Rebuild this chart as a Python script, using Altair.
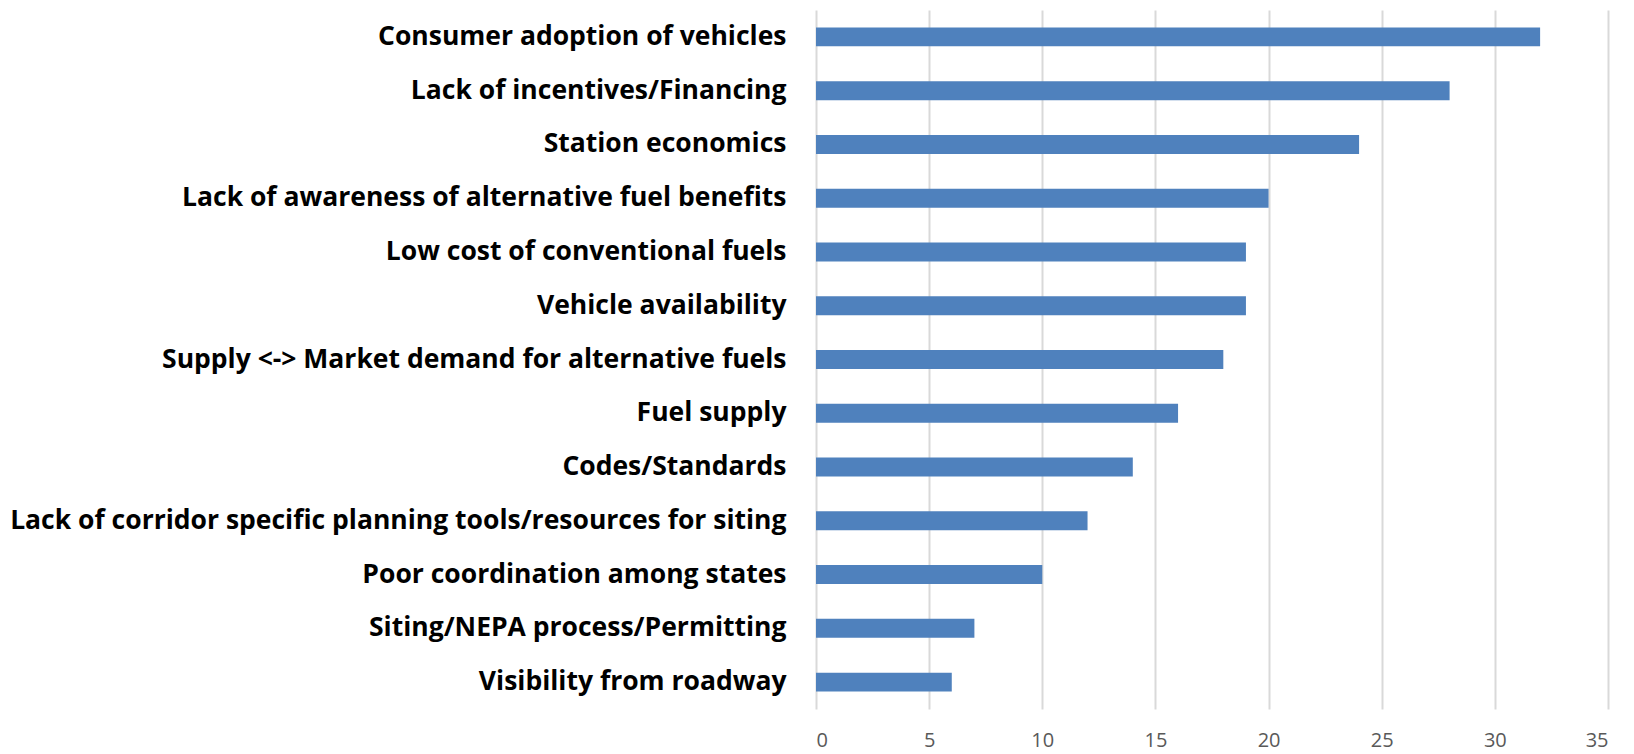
import altair as alt
import pandas as pd

categories = [
    "Consumer adoption of vehicles",
    "Lack of incentives/Financing",
    "Station economics",
    "Lack of awareness of alternative fuel benefits",
    "Low cost of conventional fuels",
    "Vehicle availability",
    "Supply <-> Market demand for alternative fuels",
    "Fuel supply",
    "Codes/Standards",
    "Lack of corridor specific planning tools/resources for siting",
    "Poor coordination among states",
    "Siting/NEPA process/Permitting",
    "Visibility from roadway",
]
values = [32, 28, 24, 20, 19, 19, 18, 16, 14, 12, 10, 7, 6]
x_ticks = [0, 5, 10, 15, 20, 25, 30, 35]

df = pd.DataFrame({"category": categories, "value": values})

chart = alt.Chart(df).mark_bar(color="#4F81BD").encode(
    x=alt.X(
        "value:Q",
        scale=alt.Scale(domain=[0, 35], nice=False),
        axis=alt.Axis(
            values=x_ticks,
            title=None,
            domain=False,
            ticks=False,
            tickSize=0,
            grid=True,
            gridColor="#D9D9D9",
            gridWidth=2,
            labelFont="Open Sans",
            labelFontSize=20,
            labelColor="#595959",
            labelPadding=21,
        ),
    ),
    y=alt.Y(
        "category:N",
        sort=categories,
        scale=alt.Scale(paddingInner=0.647, paddingOuter=0.3235),
        axis=alt.Axis(
            title=None,
            domain=False,
            ticks=False,
            tickSize=0,
            grid=False,
            labelFont="Open Sans",
            labelFontSize=26.5,
            labelFontWeight="bold",
            labelColor="#000000",
            labelPadding=30,
            labelLimit=1000,
        ),
    ),
).properties(
    width=792,
    height=699,
    background="#FFFFFF",
    autosize=alt.AutoSizeParams(type="none"),
    padding={"left": 808, "top": 2, "right": 18, "bottom": 45},
).configure_view(strokeWidth=0)

chart.save("out.html", embed_options={"renderer": "svg", "actions": False})
